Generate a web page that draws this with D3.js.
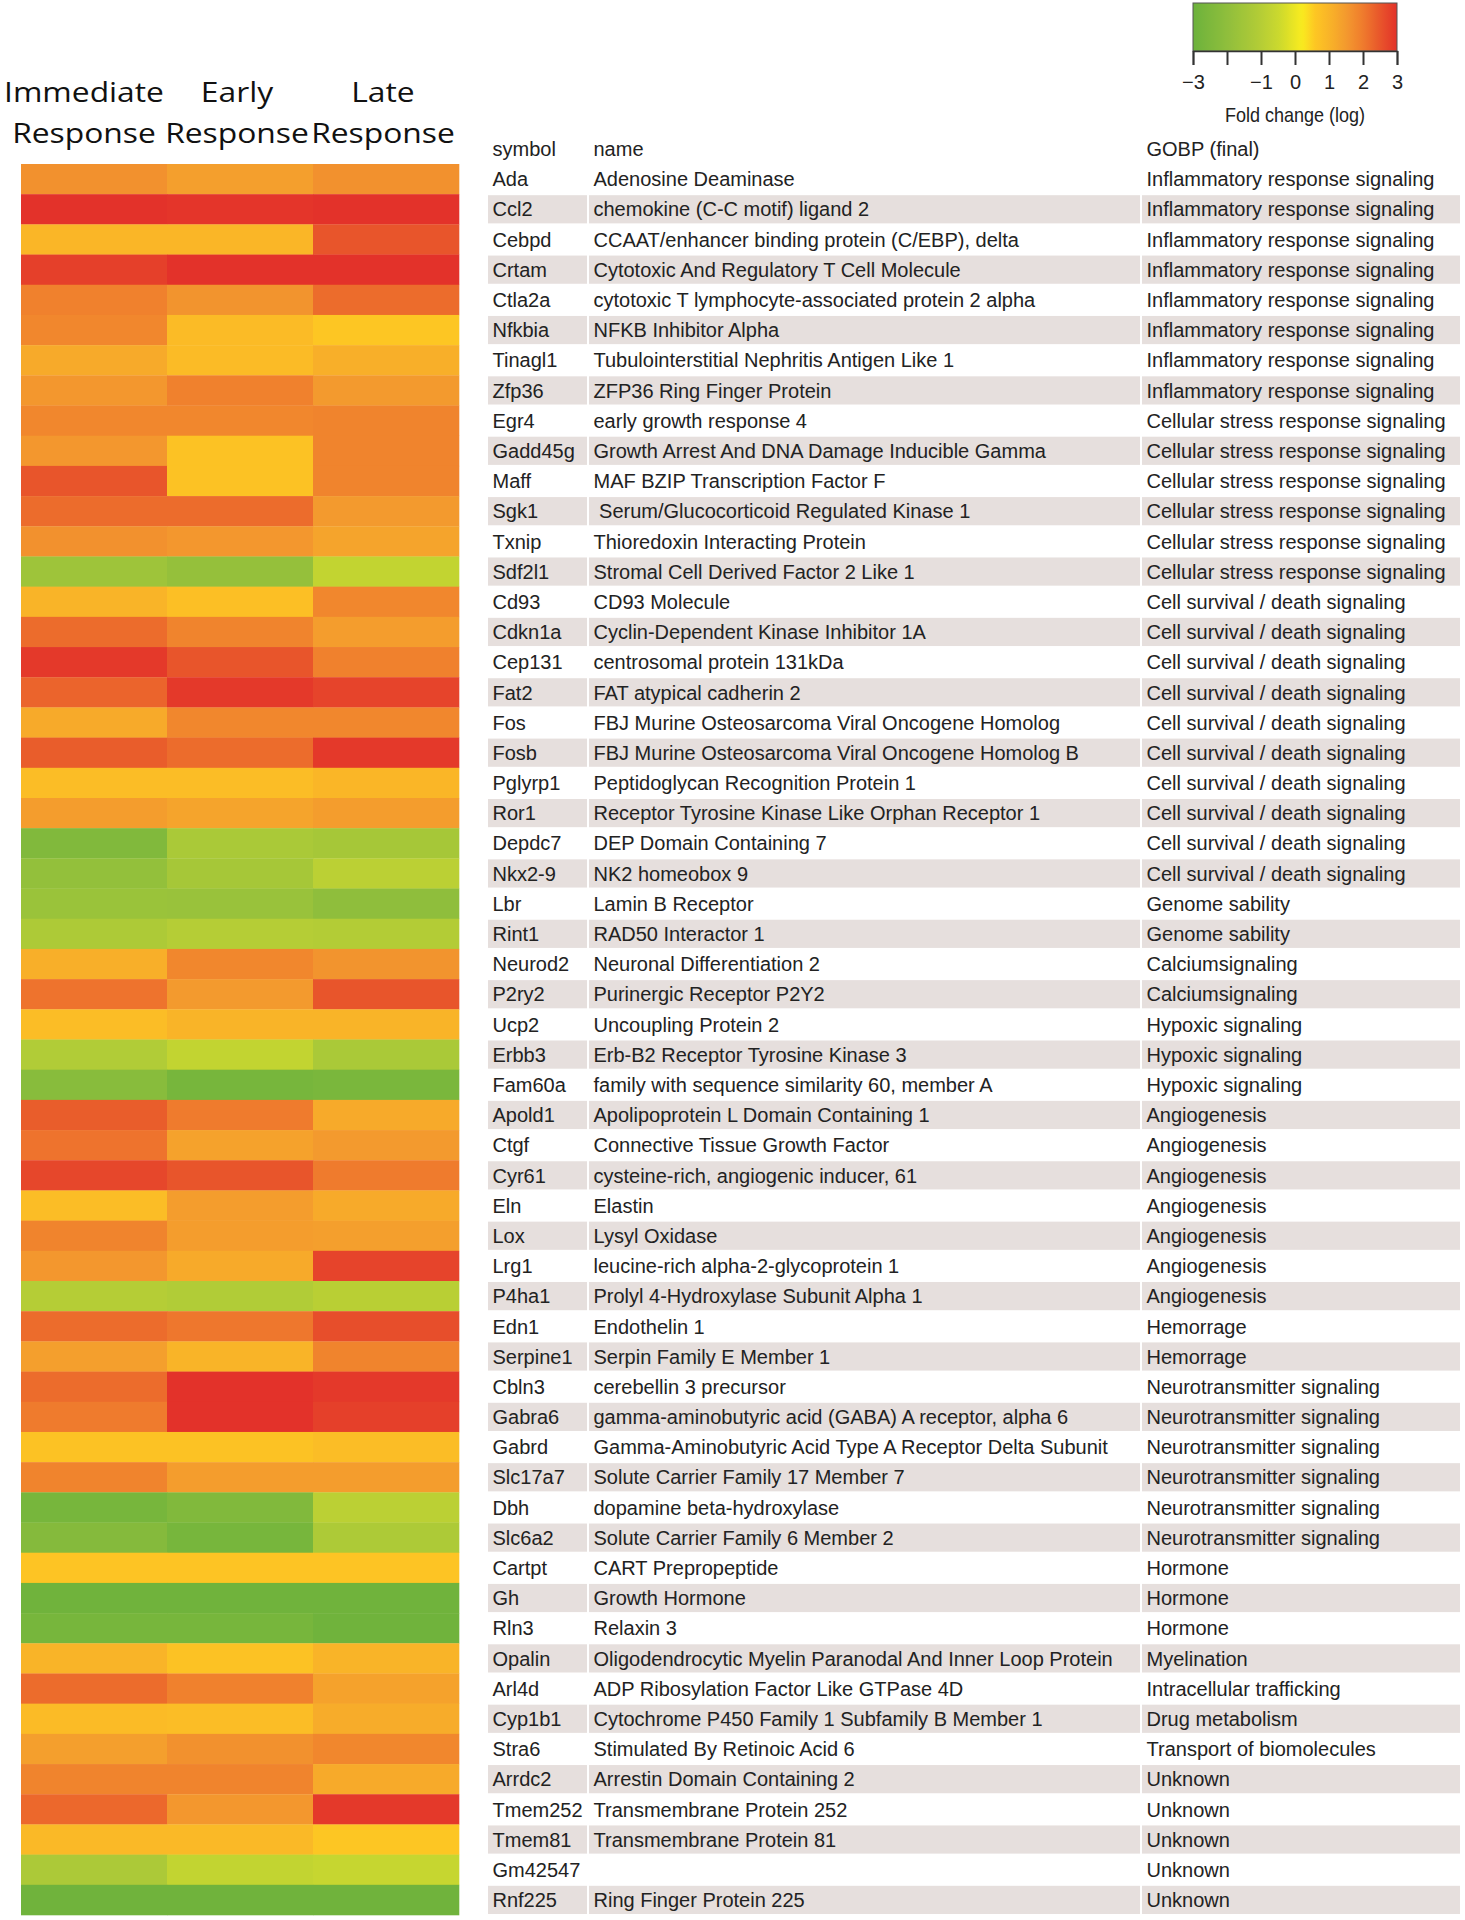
<!DOCTYPE html>
<html><head><meta charset="utf-8">
<script src="https://cdn.jsdelivr.net/npm/d3@7"></script>
<style>body{margin:0;background:#fff} svg{display:block}</style>
</head><body>
<svg id="chart" width="1465" height="1920"></svg>
<script>
// ---------- DATA ----------
const conditions = ["Immediate Response", "Early Response", "Late Response"];
const headerLines = [["Immediate", "Response"], ["Early", "Response"], ["Late", "Response"]];
const headerOffsets = [-10, -3, -3];

const symbols = ["Ada","Ccl2","Cebpd","Crtam","Ctla2a","Nfkbia","Tinagl1","Zfp36","Egr4","Gadd45g","Maff","Sgk1","Txnip","Sdf2l1","Cd93","Cdkn1a","Cep131","Fat2","Fos","Fosb","Pglyrp1","Ror1","Depdc7","Nkx2-9","Lbr","Rint1","Neurod2","P2ry2","Ucp2","Erbb3","Fam60a","Apold1","Ctgf","Cyr61","Eln","Lox","Lrg1","P4ha1","Edn1","Serpine1","Cbln3","Gabra6","Gabrd","Slc17a7","Dbh","Slc6a2","Cartpt","Gh","Rln3","Opalin","Arl4d","Cyp1b1","Stra6","Arrdc2","Tmem252","Tmem81","Gm42547","Rnf225"];

const names = ["Adenosine Deaminase","chemokine (C-C motif) ligand 2","CCAAT/enhancer binding protein (C/EBP), delta","Cytotoxic And Regulatory T Cell Molecule","cytotoxic T lymphocyte-associated protein 2 alpha","NFKB Inhibitor Alpha","Tubulointerstitial Nephritis Antigen Like 1","ZFP36 Ring Finger Protein","early growth response 4","Growth Arrest And DNA Damage Inducible Gamma","MAF BZIP Transcription Factor F"," Serum/Glucocorticoid Regulated Kinase 1","Thioredoxin Interacting Protein","Stromal Cell Derived Factor 2 Like 1","CD93 Molecule","Cyclin-Dependent Kinase Inhibitor 1A","centrosomal protein 131kDa","FAT atypical cadherin 2","FBJ Murine Osteosarcoma Viral Oncogene Homolog","FBJ Murine Osteosarcoma Viral Oncogene Homolog B","Peptidoglycan Recognition Protein 1","Receptor Tyrosine Kinase Like Orphan Receptor 1","DEP Domain Containing 7","NK2 homeobox 9","Lamin B Receptor","RAD50 Interactor 1","Neuronal Differentiation 2","Purinergic Receptor P2Y2","Uncoupling Protein 2","Erb-B2 Receptor Tyrosine Kinase 3","family with sequence similarity 60, member A","Apolipoprotein L Domain Containing 1","Connective Tissue Growth Factor","cysteine-rich, angiogenic inducer, 61","Elastin","Lysyl Oxidase","leucine-rich alpha-2-glycoprotein 1","Prolyl 4-Hydroxylase Subunit Alpha 1","Endothelin 1","Serpin Family E Member 1","cerebellin 3 precursor","gamma-aminobutyric acid (GABA) A receptor, alpha 6","Gamma-Aminobutyric Acid Type A Receptor Delta Subunit","Solute Carrier Family 17 Member 7","dopamine beta-hydroxylase","Solute Carrier Family 6 Member 2","CART Prepropeptide","Growth Hormone","Relaxin 3","Oligodendrocytic Myelin Paranodal And Inner Loop Protein","ADP Ribosylation Factor Like GTPase 4D","Cytochrome P450 Family 1 Subfamily B Member 1","Stimulated By Retinoic Acid 6","Arrestin Domain Containing 2","Transmembrane Protein 252","Transmembrane Protein 81","","Ring Finger Protein 225"];

const gobp = ["Inflammatory response signaling","Inflammatory response signaling","Inflammatory response signaling","Inflammatory response signaling","Inflammatory response signaling","Inflammatory response signaling","Inflammatory response signaling","Inflammatory response signaling","Cellular stress response signaling","Cellular stress response signaling","Cellular stress response signaling","Cellular stress response signaling","Cellular stress response signaling","Cellular stress response signaling","Cell survival / death signaling","Cell survival / death signaling","Cell survival / death signaling","Cell survival / death signaling","Cell survival / death signaling","Cell survival / death signaling","Cell survival / death signaling","Cell survival / death signaling","Cell survival / death signaling","Cell survival / death signaling","Genome sability","Genome sability","Calciumsignaling","Calciumsignaling","Hypoxic signaling","Hypoxic signaling","Hypoxic signaling","Angiogenesis","Angiogenesis","Angiogenesis","Angiogenesis","Angiogenesis","Angiogenesis","Angiogenesis","Hemorrage","Hemorrage","Neurotransmitter signaling","Neurotransmitter signaling","Neurotransmitter signaling","Neurotransmitter signaling","Neurotransmitter signaling","Neurotransmitter signaling","Hormone","Hormone","Hormone","Myelination","Intracellular trafficking","Drug metabolism","Transport of biomolecules","Unknown","Unknown","Unknown","Unknown","Unknown"];

// log fold change
const immediate = [1.65,3.0,0.95,2.8,1.9,1.8,1.2,1.55,1.8,1.55,2.5,2.2,1.65,-1.6,1.0,2.2,2.9,2.3,1.2,2.4,0.8,1.45,-2.4,-1.9,-1.7,-1.2,1.1,2.1,0.8,-1.1,-2.2,2.4,2.1,2.7,0.8,1.85,1.55,-1.0,2.2,1.4,2.2,2.0,0.7,1.85,-2.7,-2.3,0.65,-2.9,-2.7,1.0,2.2,0.85,1.4,1.85,2.25,0.9,-1.25,-2.9];
const early     = [1.4,2.95,0.95,3.0,1.6,0.85,0.85,1.9,1.8,0.7,0.7,2.2,1.55,-1.85,0.75,1.85,2.5,2.9,1.8,2.2,0.8,1.3,-1.3,-1.4,-1.75,-1.0,1.8,1.5,1.0,-0.7,-2.7,2.0,1.35,2.5,1.45,1.45,1.2,-1.1,2.05,1.0,3.0,3.0,0.7,1.45,-2.4,-2.7,0.65,-2.9,-2.7,0.7,1.9,0.8,1.65,1.85,1.55,0.9,-0.7,-2.9];
const late      = [1.65,3.0,2.5,3.0,2.2,0.6,1.1,1.5,1.85,1.85,1.85,1.5,1.3,-0.7,1.8,1.45,1.9,2.75,1.8,2.9,0.95,1.45,-1.4,-0.85,-2.0,-1.05,1.6,2.5,1.0,-1.3,-2.6,1.2,1.5,2.0,1.2,1.4,2.75,-0.9,2.6,1.85,2.9,2.8,0.8,1.45,-0.85,-1.2,0.65,-2.9,-2.9,1.0,1.35,1.15,1.8,1.2,2.9,0.6,-0.6,-2.9];

const tableHeaders = ["symbol", "name", "GOBP (final)"];
const legendTicks = [-3, -2, -1, 0, 1, 2, 3];
const legendTickLabels = ["\u22123", "", "\u22121", "0", "1", "2", "3"];
const legendTitle = "Fold change (log)";

const colorStops = [-3, -2, -1, -0.5, 0.2, 0.6, 1.0, 1.5, 2.0, 2.5, 3];
const colorRange = ["#6cb23c","#8fbe3c","#b5cd36","#cad82e","#f9ec1f","#fdc623","#f9b428","#f39a2e","#ef7b2d","#e8552b","#e3322a"];

// ---------- BUILD ----------
const series = [immediate, early, late];
const cells = [];
symbols.forEach((s, i) => conditions.forEach((c, j) => cells.push({symbol: s, cond: c, value: series[j][i], row: i})));

const svg = d3.select("#chart");
const x = d3.scaleBand().domain(conditions).range([21, 459]);
const y = d3.scaleBand().domain(symbols).range([164, 1915]);
const color = d3.scaleLinear().domain(colorStops).range(colorRange).interpolate(d3.interpolateRgb).clamp(true);

// heatmap
svg.append("g").selectAll("rect").data(cells).join("rect")
  .attr("x", d => x(d.cond)).attr("y", d => y(d.symbol))
  .attr("width", x.bandwidth() + 0.3).attr("height", y.bandwidth() + 0.3)
  .attr("fill", d => color(d.value));

// column headers
const hdr = svg.append("g").attr("font-family", "'Open Sans', 'Noto Sans', sans-serif")
  .attr("font-size", 26.5).attr("fill", "#111");
conditions.forEach((c, j) => {
  headerLines[j].forEach((line, k) => {
    hdr.append("text")
      .attr("transform", `translate(${x(c) + x.bandwidth() / 2 + headerOffsets[j]},${102 + k * 41}) scale(1.2,1)`)
      .attr("text-anchor", "middle").text(line);
  });
});

// table
const colLeft = d3.scaleOrdinal().domain(tableHeaders).range([488, 589, 1142]);
const colRight = d3.scaleOrdinal().domain(tableHeaders).range([587, 1140, 1460]);
const textPad = 4.5;
const rows = symbols.map((s, i) => ({symbol: s, vals: [s, names[i], gobp[i]], i}));
const tbl = svg.append("g");
// shading
rows.filter(r => r.i % 2 === 1).forEach(r => {
  tableHeaders.forEach(h => {
    tbl.append("rect").attr("x", colLeft(h)).attr("y", y(r.symbol) + 1)
      .attr("width", colRight(h) - colLeft(h)).attr("height", y.bandwidth() - 2)
      .attr("fill", "#e6dfdd");
  });
});
const txt = tbl.append("g").attr("font-family", "'Liberation Sans', Arial, sans-serif")
  .attr("font-size", 20).attr("fill", "#222").style("white-space", "pre");
const headerY = y(symbols[0]) - y.bandwidth() / 2;
tableHeaders.forEach(h => {
  txt.append("text").attr("x", colLeft(h) + textPad).attr("y", headerY).attr("dy", "0.36em").text(h);
});
rows.forEach(r => {
  tableHeaders.forEach((h, k) => {
    if (!r.vals[k]) return;
    txt.append("text").attr("x", colLeft(h) + textPad)
      .attr("y", y(r.symbol) + y.bandwidth() / 2).attr("dy", "0.36em")
      .attr("xml:space", "preserve").text(r.vals[k]);
  });
});

// legend
const lx = d3.scaleLinear().domain([-3, 3]).range([1193, 1397]);
const defs = svg.append("defs");
const grad = defs.append("linearGradient").attr("id", "lg").attr("x1", "0%").attr("x2", "100%");
d3.range(0, 1.0001, 0.02).forEach(t => {
  grad.append("stop").attr("offset", (t * 100) + "%").attr("stop-color", color(-3 + 6 * t));
});
const legend = svg.append("g");
legend.append("rect").attr("x", lx(-3)).attr("y", 3).attr("width", lx(3) - lx(-3)).attr("height", 48)
  .attr("fill", "url(#lg)").attr("stroke", "#555").attr("stroke-width", 1);
const axis = d3.axisBottom(lx).tickValues(legendTicks).tickFormat((d, i) => legendTickLabels[i]).tickSize(14).tickPadding(10);
const ag = legend.append("g").attr("transform", "translate(0,51)").call(axis);
ag.select(".domain").attr("stroke", "#333").attr("stroke-width", 1.5);
ag.selectAll(".tick line").attr("stroke", "#333").attr("stroke-width", 2);
ag.selectAll(".tick text").attr("font-family", "'Liberation Sans', Arial, sans-serif").attr("font-size", 20).attr("fill", "#222");
legend.append("text")
  .attr("transform", `translate(${lx(0)},122) scale(0.9,1)`)
  .attr("text-anchor", "middle").attr("font-family", "'Liberation Sans', Arial, sans-serif")
  .attr("font-size", 20).attr("fill", "#222").text(legendTitle);
</script>
</body></html>
